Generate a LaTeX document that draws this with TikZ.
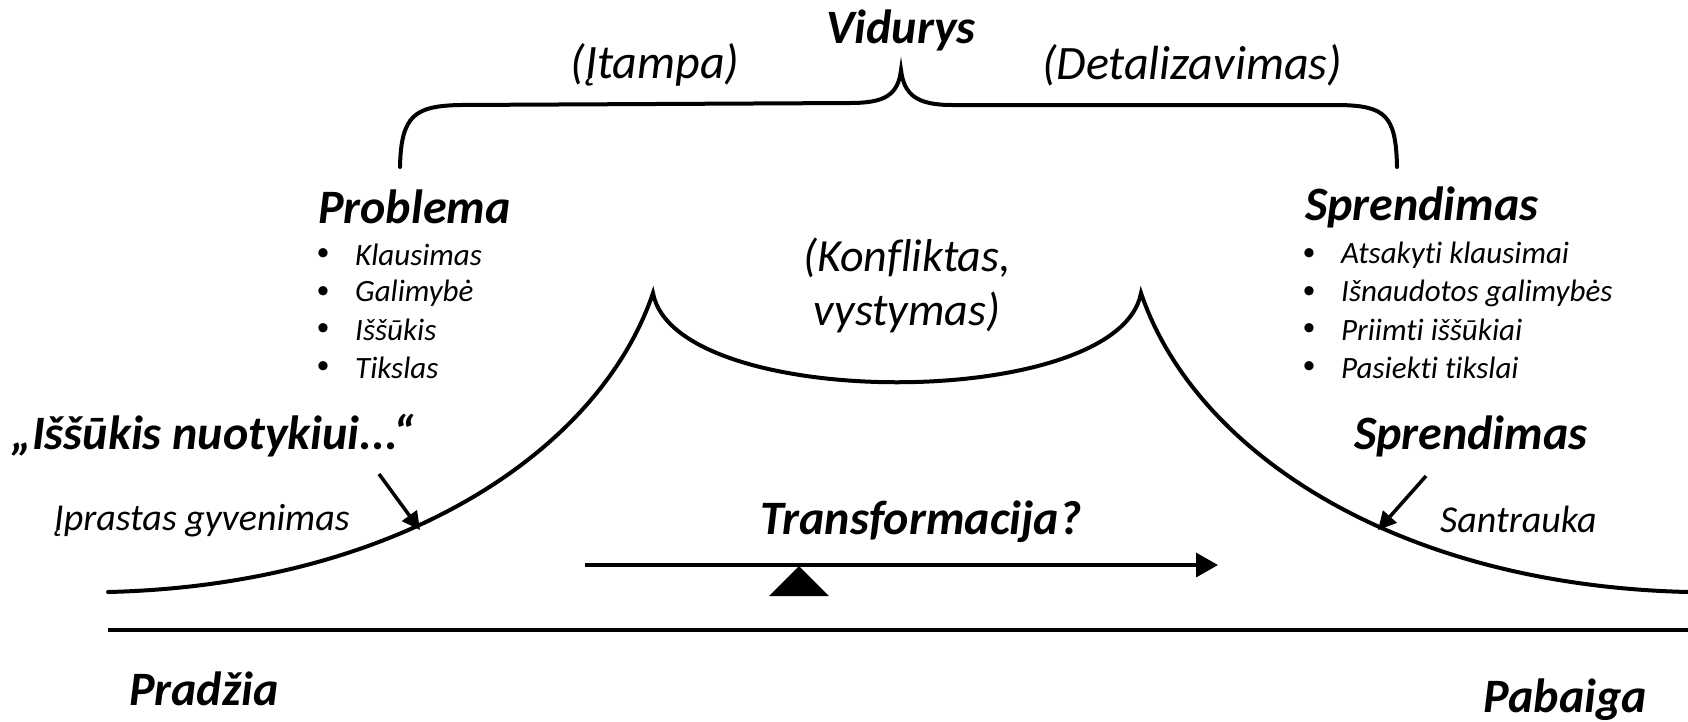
\documentclass[tikz,border=0pt]{standalone}
\usepackage{fontspec}
\setmainfont{Carlito}[Ligatures=NoCommon]
\usetikzlibrary{arrows.meta}
\tikzset{
  curve/.style={line width=4pt, line cap=round},
  head/.style={font=\fontsize{48}{52}\selectfont\bfseries\itshape, inner sep=0pt},
  paren/.style={font=\fontsize{46}{54}\selectfont\itshape, inner sep=0pt},
  item/.style={font=\fontsize{31}{36}\selectfont\itshape, inner sep=0pt, anchor=west},
  dot/.style={font=\fontsize{26}{36}\selectfont, inner sep=0pt},
  small/.style={font=\fontsize{38}{44}\selectfont\itshape, inner sep=0pt},
  ptr/.style={line width=3.5pt, -{Triangle[length=18pt,width=18pt]}},
}
\begin{document}
\begin{tikzpicture}[x=1pt,y=-1pt]
\useasboundingbox (0,0) rectangle (1688,721);
% brace
\draw[curve] (400,167) .. controls (401,115) and (415,106) .. (460,105) -- (850,103)
  .. controls (885,103) and (898,95) .. (901,70)
  .. controls (904,95) and (917,105) .. (952,105) -- (1340,105)
  .. controls (1385,106) and (1396,115) .. (1397,167);
% story curve
\coordinate (s0) at (108,592);
\coordinate (pL) at (653,293);
\coordinate (pR) at (1141,293);
\coordinate (s1) at (1688,592);
\draw[curve] (s0) .. controls (400,585) and (600,450) .. (pL)
  .. controls (675,412) and (1119,412) .. (pR)
  .. controls (1194,450) and (1394,585) .. (s1);
% baseline
\coordinate (b0) at (108,630);
\coordinate (b1) at (1688,630);
\draw[line width=4pt] (b0) -- (b1);
% texts
\node[head] (vid) at (901,30) {Vidurys};
\node[paren, font=\fontsize{48}{54}\selectfont\itshape] (itampa) at (655,65) {(Įtampa)};
\node[paren, font=\fontsize{48}{54}\selectfont\itshape] (detal) at (1192,65) {(Detalizavimas)};
\node[head, anchor=west] (prob) at (318,207) {Problema};
\foreach \t/\y [count=\i] in {Klausimas/255, Galimybė/293, Iššūkis/330, Tikslas/368}{
  \node[dot] (pd\i) at (323,\y) {•};
  \node[item] (pi\i) at (355,\y) {\t};
}
\node[head, anchor=west] (spr) at (1305,207) {Sprendimas};
\foreach \t/\y [count=\i] in {Atsakyti klausimai/255, Išnaudotos galimybės/293, Priimti iššūkiai/330, Pasiekti tikslai/368}{
  \node[dot] (sd\i) at (1309,\y) {•};
  \node[item] (si\i) at (1341,\y) {\t};
}
\node[paren, align=center] (konf) at (907,285) {(Konfliktas,\\vystymas)};
\node[head, anchor=west] (issuk) at (11,436) {„Iššūkis nuotykiui...“};
\node[small, anchor=west] (iprast) at (54,521) {Įprastas gyvenimas};
\node[small, anchor=west] (santr) at (1440,519) {Santrauka};
\node[head, anchor=west] (spr2) at (1354,436) {Sprendimas};
\node[head] (transf) at (921,522) {Transformacija?};
\node[head, anchor=west] (prad) at (129,689) {Pradžia};
\node[head, anchor=east] (pab) at (1647,700) {Pabaiga};
% arrows
\coordinate (a1s) at (379,474);
\coordinate (a1e) at (420,530);
\coordinate (a2s) at (1426,476);
\coordinate (a2e) at (1378,530);
\draw[ptr] (a1s) -- (a1e);
\draw[ptr] (a2s) -- (a2e);
\coordinate (t0) at (585,565);
\coordinate (t1) at (1218,565);
\draw[line width=3.5pt, -{Triangle[length=22pt,width=24pt]}] (t0) -- (t1);
\fill (799,566) -- (829,596) -- (769,596) -- cycle;
\end{tikzpicture}
\end{document}
